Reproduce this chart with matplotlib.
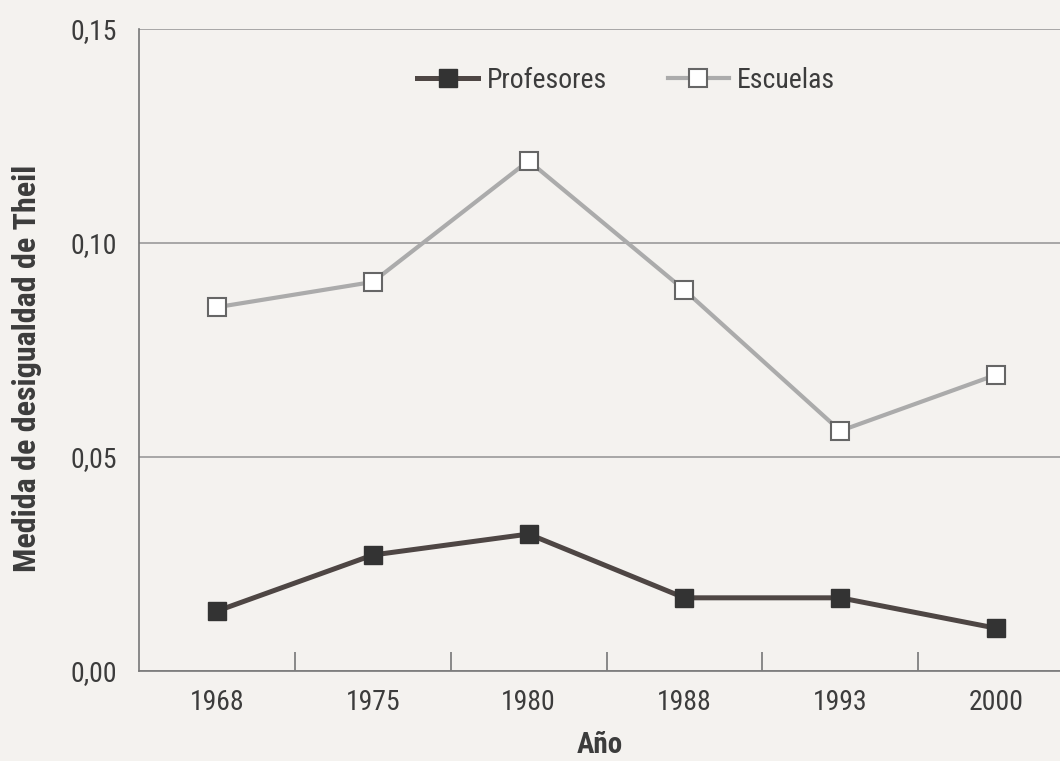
import numpy as np
import matplotlib.pyplot as plt
from matplotlib.ticker import FixedLocator, FuncFormatter

years = ["1968", "1975", "1980", "1988", "1993", "2000"]
profesores = [0.0140, 0.0271, 0.0320, 0.0171, 0.0171, 0.0100]
escuelas = [0.0850, 0.0909, 0.1192, 0.0890, 0.0561, 0.0692]

plt.rcParams['font.family'] = ['Roboto Condensed', 'Archivo Narrow', 'DejaVu Sans']

bg = '#f4f2ef'
txt = '#3c3c3c'
fig = plt.figure(figsize=(10.6, 7.61), dpi=100, facecolor=bg)
ax = fig.add_axes([139 / 1060, 1 - 671 / 761, (1060 - 139) / 1060, (671 - 29) / 761])
ax.set_facecolor(bg)

x = np.arange(len(years))
ax.plot(x, escuelas, color='#ababab', lw=3.0, marker='s', ms=13,
        mfc='white', mec='#666666', mew=1.5, label='Escuelas', zorder=3)
ax.plot(x, profesores, color='#4e4644', lw=3.6, marker='s', ms=13,
        mfc='#333333', mec='#333333', label='Profesores', zorder=3)

ax.set_xlim(-0.5, 5.41)
ax.set_ylim(0, 0.15)
ax.set_yticks([0, 0.05, 0.10, 0.15])
ax.yaxis.set_major_formatter(FuncFormatter(lambda v, p: f"{v:.2f}".replace('.', ',')))
ax.yaxis.grid(True, color='#9a9a9a', lw=1.2)
ax.set_axisbelow(True)

ax.set_xticks(x)
ax.set_xticklabels(years)
ax.xaxis.set_minor_locator(FixedLocator(x[:-1] + 0.5))
ax.tick_params(axis='x', which='major', length=0, pad=13, labelsize=20, labelcolor=txt)
ax.tick_params(axis='x', which='minor', direction='in', length=14, width=1.2, color='#777777')
ax.tick_params(axis='y', length=0, pad=16, labelsize=20, labelcolor=txt)

for s in ['top', 'right']:
    ax.spines[s].set_visible(False)
for s in ['left', 'bottom']:
    ax.spines[s].set_color('#777777')
    ax.spines[s].set_linewidth(1.2)

ax.set_xlabel('Año', fontsize=21, fontweight='bold', color=txt)
ax.xaxis.set_label_coords(0.5, -0.093)
ax.set_ylabel('Medida de desigualdad de Theil', fontsize=23, fontweight='bold', color=txt)
ax.yaxis.set_label_coords(-0.105, 0.472)

h, l = ax.get_legend_handles_labels()
ax.legend(h[::-1], l[::-1], loc='center', bbox_to_anchor=(0.529, 0.92), ncol=2,
          frameon=False, fontsize=20, handlelength=2.2, columnspacing=2.2,
          handletextpad=0.3, labelcolor=txt)

fig.savefig('out.png', dpi=100, facecolor=bg)
